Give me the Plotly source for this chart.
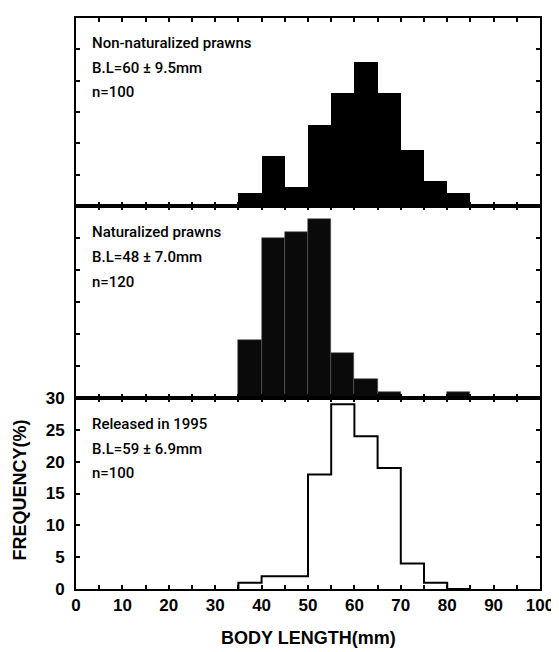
import plotly.graph_objects as go
from plotly.subplots import make_subplots

# ---- data (percent frequency per 5 mm body-length class) ----
bin_left = [35, 40, 45, 50, 55, 60, 65, 70, 75, 80]
bin_width = 5
non_naturalized = [2, 8, 3, 13, 18, 23, 18, 9, 4, 2]
naturalized = [9, 25, 26, 28, 7, 3, 1, 0, 0, 1]
released_1995 = [1, 2, 2, 18, 29, 24, 19, 4, 1, 0]

panel_labels = [
    ["Non-naturalized prawns", "B.L=60 \u00b1 9.5mm", "n=100"],
    ["Naturalized prawns", "B.L=48 \u00b1 7.0mm", "n=120"],
    ["Released in 1995", "B.L=59 \u00b1 6.9mm", "n=100"],
]
x_tickvals = list(range(0, 101, 5))
x_ticktext = [str(v) if v % 10 == 0 else "" for v in x_tickvals]
y_tickvals = list(range(0, 31, 5))
y_ticktext = [str(v) for v in y_tickvals]

centers = [b + bin_width / 2 for b in bin_left]

fig = make_subplots(rows=3, cols=1, shared_xaxes=False, vertical_spacing=0)

fig.add_trace(go.Bar(x=centers, y=non_naturalized, width=bin_width,
                     marker=dict(color="black", line=dict(width=0))), row=1, col=1)
fig.add_trace(go.Bar(x=centers, y=naturalized, width=bin_width,
                     marker=dict(color="#0a0a0a", line=dict(color="#555555", width=0.6))), row=2, col=1)

step_x = [bin_left[0]] + bin_left + [bin_left[-1] + bin_width]
step_y = [0] + released_1995 + [0]
fig.add_trace(go.Scatter(x=step_x, y=step_y, mode="lines",
                         line=dict(color="black", width=2, shape="hv")), row=3, col=1)

tickfont = dict(family="Arial, Liberation Sans", size=17, color="black", weight="bold")

for r in (1, 2, 3):
    fig.update_xaxes(range=[0, 100], tickvals=x_tickvals, ticktext=x_ticktext,
                     ticks="inside", ticklen=4, tickwidth=1.5, tickcolor="black",
                     showline=True, linewidth=2, linecolor="black", mirror="ticks",
                     showgrid=False, zeroline=False, showticklabels=(r == 3),
                     tickfont=tickfont, row=r, col=1)
    fig.update_yaxes(range=[0, 30], tickvals=y_tickvals, ticktext=y_ticktext,
                     ticks="inside", ticklen=4, tickwidth=1.5, tickcolor="black",
                     showline=True, linewidth=2, linecolor="black", mirror="ticks",
                     showgrid=False, zeroline=False, showticklabels=(r == 3),
                     tickfont=tickfont, ticklabelstandoff=6, row=r, col=1)

# domains (top, middle, bottom)
fig.update_layout(
    yaxis=dict(domain=[0.6707, 1.0]),
    yaxis2=dict(domain=[0.3345, 0.6707]),
    yaxis3=dict(domain=[0.0, 0.3345]),
)

ann_font = dict(family="Roboto, Arial", size=15, color="black", weight=500)
line_pos = [0.865, 0.735, 0.605]
yrefs = ["y domain", "y2 domain", "y3 domain"]
for p, lines in enumerate(panel_labels):
    for i, txt in enumerate(lines):
        fig.add_annotation(text=txt, xref="paper", yref=yrefs[p], x=0.03, y=line_pos[i],
                           xanchor="left", yanchor="middle", showarrow=False, font=ann_font)

fig.add_annotation(text="FREQUENCY(%)", xref="paper", yref="y3 domain", x=-0.121, y=0.52,
                   textangle=-90, xanchor="center", yanchor="middle", showarrow=False,
                   font=dict(family="Arial, Liberation Sans", size=18, color="black", weight="bold"))
fig.add_annotation(text="BODY LENGTH(mm)", xref="paper", yref="paper", x=0.5, y=-0.085,
                   xanchor="center", yanchor="middle", showarrow=False,
                   font=dict(family="Arial, Liberation Sans", size=18, color="black", weight="bold"))

# page body has an 8px default margin, so size/margins account for it
fig.update_layout(
    width=551, height=644,
    margin=dict(l=68, r=19, t=1, b=63),
    paper_bgcolor="white", plot_bgcolor="white",
    showlegend=False, bargap=0,
)

fig.write_html("out.html")
